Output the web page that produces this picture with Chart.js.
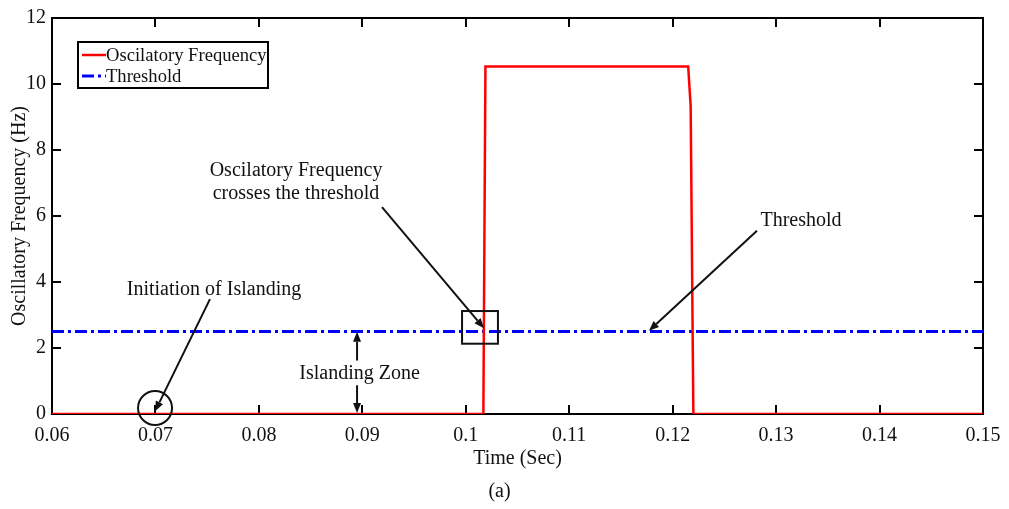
<!DOCTYPE html>
<html>
<head>
<meta charset="utf-8">
<script src="https://cdn.jsdelivr.net/npm/chart.js@4/dist/chart.umd.min.js"></script>
<style>
html,body{margin:0;padding:0;background:#fff;}
#wrap{width:1009px;height:509px;}
</style>
</head>
<body>
<div id="wrap"><canvas id="c" width="1009" height="509"></canvas></div>
<script>
// ---- data ----
const freqTime  = [0.06, 0.1017, 0.1019, 0.1215, 0.12174, 0.1220, 0.15];
const freqValue = [0, 0, 10.53, 10.53, 9.33, 0, 0];
const thrTime   = [0.06, 0.15];
const thrValue  = [2.5, 2.5];
const xTickValues = [0.06, 0.07, 0.08, 0.09, 0.10, 0.11, 0.12, 0.13, 0.14, 0.15];
const xTickLabels = ['0.06','0.07','0.08','0.09','0.1','0.11','0.12','0.13','0.14','0.15'];
const yTickValues = [0, 2, 4, 6, 8, 10, 12];
const yTickLabels = ['0','2','4','6','8','10','12'];
const seriesNames = ['Oscilatory Frequency', 'Threshold'];
const xTitle = 'Time (Sec)';
const yTitle = 'Oscillatory Frequency (Hz)';
const caption = '(a)';

// annotations (data coordinates)
const notes = [
  {text: ['Oscilatory Frequency', 'crosses the threshold'], x: 0.08359, y: 7.38},
  {text: ['Threshold'], x: 0.13241, y: 5.85},
  {text: ['Initiation of Islanding'], x: 0.07566, y: 3.78},
  {text: ['Islanding Zone'], x: 0.08973, y: 1.23}
];
const arrows = [
  {x1: 0.0919, y1: 6.27, x2: 0.10176, y2: 2.6},
  {x1: 0.12815, y1: 5.55, x2: 0.11771, y2: 2.52},
  {x1: 0.07527, y1: 3.48, x2: 0.06996, y2: 0.08},
  {x1: 0.08949, y1: 1.62, x2: 0.08949, y2: 2.49},
  {x1: 0.08949, y1: 0.87, x2: 0.08949, y2: 0.03}
];
const boxMark = {x1: 0.09964, y1: 3.12, x2: 0.10311, y2: 2.13};
const circleMark = {x: 0.06996, y: 0.18, r: 17};

const FONT = '"Liberation Serif", "Times New Roman", serif';

const pts = (xs, ys) => xs.map((x, i) => ({x: x, y: ys[i]}));

const decor = {
  id: 'decor',
  beforeDatasetsDraw(chart) {
    const {ctx, chartArea: a, scales: {x, y}} = chart;
    ctx.save();
    ctx.strokeStyle = '#000';
    ctx.lineWidth = 2;
    ctx.strokeRect(a.left, a.top, a.right - a.left, a.bottom - a.top);
    const tl = 9;
    ctx.beginPath();
    xTickValues.forEach(v => {
      const px = Math.round(x.getPixelForValue(v));
      if (px <= a.left + 1 || px >= a.right - 1) return;
      ctx.moveTo(px, a.bottom); ctx.lineTo(px, a.bottom - tl);
      ctx.moveTo(px, a.top); ctx.lineTo(px, a.top + tl);
    });
    yTickValues.forEach(v => {
      const py = Math.round(y.getPixelForValue(v));
      if (py <= a.top + 1 || py >= a.bottom - 1) return;
      ctx.moveTo(a.left, py); ctx.lineTo(a.left + tl, py);
      ctx.moveTo(a.right, py); ctx.lineTo(a.right - tl, py);
    });
    ctx.stroke();
    ctx.restore();
  },
  afterDatasetsDraw(chart) {
    const {ctx, chartArea: a, scales: {x, y}} = chart;
    ctx.save();
    // annotations text
    ctx.fillStyle = '#111';
    ctx.font = '20px ' + FONT;
    ctx.textAlign = 'center';
    ctx.textBaseline = 'middle';
    notes.forEach(n => {
      const cx = x.getPixelForValue(n.x), cy = y.getPixelForValue(n.y);
      n.text.forEach((t, i) => ctx.fillText(t, cx, cy + i * 23));
    });
    // arrows
    ctx.strokeStyle = '#111';
    ctx.fillStyle = '#111';
    ctx.lineWidth = 2;
    arrows.forEach(ar => {
      const x1 = x.getPixelForValue(ar.x1), y1 = y.getPixelForValue(ar.y1);
      const x2 = x.getPixelForValue(ar.x2), y2 = y.getPixelForValue(ar.y2);
      const ang = Math.atan2(y2 - y1, x2 - x1);
      const L = 10, W = 4;
      const bx = x2 - L * Math.cos(ang), by = y2 - L * Math.sin(ang);
      ctx.beginPath();
      ctx.moveTo(x1, y1); ctx.lineTo(bx, by);
      ctx.stroke();
      ctx.beginPath();
      ctx.moveTo(x2, y2);
      ctx.lineTo(bx + W * Math.sin(ang), by - W * Math.cos(ang));
      ctx.lineTo(bx - W * Math.sin(ang), by + W * Math.cos(ang));
      ctx.closePath();
      ctx.fill();
    });
    // square mark
    const sx1 = x.getPixelForValue(boxMark.x1), sy1 = y.getPixelForValue(boxMark.y1);
    const sx2 = x.getPixelForValue(boxMark.x2), sy2 = y.getPixelForValue(boxMark.y2);
    ctx.lineWidth = 2;
    ctx.strokeRect(sx1, sy1, sx2 - sx1, sy2 - sy1);
    // circle mark
    ctx.beginPath();
    ctx.arc(x.getPixelForValue(circleMark.x), y.getPixelForValue(circleMark.y), circleMark.r, 0, Math.PI * 2);
    ctx.stroke();

    // legend
    const lx = a.left + 26, ly = a.top + 24, lw = 190, lh = 46;
    ctx.fillStyle = '#fff';
    ctx.fillRect(lx, ly, lw, lh);
    ctx.strokeStyle = '#000';
    ctx.lineWidth = 2;
    ctx.strokeRect(lx, ly, lw, lh);
    chart.data.datasets.forEach((ds, i) => {
      const yy = ly + 13 + i * 21;
      ctx.save();
      ctx.strokeStyle = ds.borderColor;
      ctx.lineWidth = ds.borderWidth;
      ctx.setLineDash(ds.borderDash || []);
      ctx.beginPath();
      ctx.moveTo(lx + 4, yy); ctx.lineTo(lx + 28, yy);
      ctx.stroke();
      ctx.restore();
      ctx.fillStyle = '#111';
      ctx.font = '18.6px ' + FONT;
      ctx.textAlign = 'left';
      ctx.textBaseline = 'middle';
      ctx.fillText(ds.label, lx + 28, yy + 1);
    });

    // caption
    ctx.fillStyle = '#111';
    ctx.font = '20px ' + FONT;
    ctx.textAlign = 'center';
    ctx.textBaseline = 'middle';
    ctx.fillText(caption, (a.left + a.right) / 2 - 18, 492);
    ctx.restore();
  }
};

new Chart(document.getElementById('c'), {
  type: 'scatter',
  data: {
    datasets: [
      {label: seriesNames[0], data: pts(freqTime, freqValue), showLine: true,
       borderColor: '#ff0000', backgroundColor: '#ff0000', borderWidth: 2.5, pointRadius: 0, tension: 0},
      {label: seriesNames[1], data: pts(thrTime, thrValue), showLine: true,
       borderColor: '#0000ff', backgroundColor: '#0000ff', borderWidth: 3, borderDash: [12, 4, 3, 4], pointRadius: 0}
    ]
  },
  options: {
    responsive: false,
    animation: false,
    events: [],
    layout: {padding: {top: 14, right: 26, left: 0, bottom: 0}},
    plugins: {legend: {display: false}, tooltip: {enabled: false}},
    scales: {
      x: {
        type: 'linear', min: 0.06, max: 0.15,
        afterBuildTicks: s => { s.ticks = xTickValues.map(v => ({value: v})); },
        afterFit: s => { s.height = 95; },
        grid: {display: false, drawTicks: false},
        border: {display: false},
        ticks: {
          callback: (v, i) => xTickLabels[i],
          font: {family: FONT, size: 20, lineHeight: 1.4}, color: '#111', padding: 8, maxRotation: 0, autoSkip: false
        },
        title: {display: true, text: xTitle, font: {family: FONT, size: 20}, color: '#111', padding: {top: 0, bottom: 38}}
      },
      y: {
        type: 'linear', min: 0, max: 12,
        afterBuildTicks: s => { s.ticks = yTickValues.map(v => ({value: v})); },
        afterFit: s => { s.width = 52; },
        grid: {display: false, drawTicks: false},
        border: {display: false},
        ticks: {
          callback: (v, i) => yTickLabels[i],
          font: {family: FONT, size: 20}, color: '#111', padding: 6, autoSkip: false
        },
        title: {display: true, text: yTitle, font: {family: FONT, size: 20}, color: '#111', padding: {top: 8, bottom: 0}}
      }
    }
  },
  plugins: [decor]
});
</script>
</body>
</html>
